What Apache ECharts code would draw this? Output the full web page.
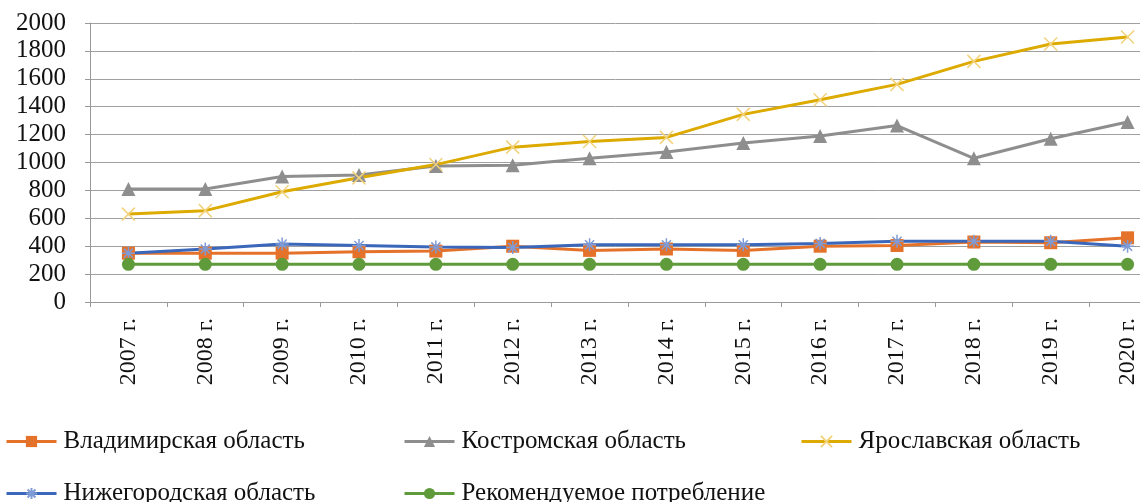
<!DOCTYPE html>
<html><head><meta charset="utf-8">
<script src="https://cdn.jsdelivr.net/npm/echarts@6/dist/echarts.min.js"></script>
<style>html,body{margin:0;padding:0;background:#fff}#c{width:1140px;height:502px}</style>
</head><body><div id="c"></div>
<script>
var categories = ['2007 г.','2008 г.','2009 г.','2010 г.','2011 г.','2012 г.','2013 г.','2014 г.','2015 г.','2016 г.','2017 г.','2018 г.','2019 г.','2020 г.'];
var vladimir = [350,350,350,360,365,400,370,380,370,400,405,430,425,460];
var kostroma = [810,810,900,910,975,980,1030,1075,1140,1190,1265,1030,1170,1290];
var yaroslavl = [630,655,790,890,985,1110,1150,1180,1345,1450,1560,1725,1850,1900];
var nizhny = [350,380,415,405,395,390,410,410,410,420,435,435,435,400];
var recommended = [270,270,270,270,270,270,270,270,270,270,270,270,270,270];
var seriesNames = ['Владимирская область','Костромская область','Ярославская область','Нижегородская область','Рекомендуемое потребление'];
var yTicks = [0,200,400,600,800,1000,1200,1400,1600,1800,2000];

var font = '"Liberation Serif","DejaVu Serif",serif';
var crossPath = 'path://M0,0 L10,10 M10,0 L0,10';
var starPath = 'path://M5,0 L5,10 M0,5 L10,5 M1.5,1.5 L8.5,8.5 M8.5,1.5 L1.5,8.5';

function legendAt(name, left, top) {
  return {
    data: [name], left: left, top: top, itemWidth: 50, itemHeight: 14, itemGap: 0,
    padding: 0,
    lineStyle: { width: 3 },
    textStyle: { fontFamily: font, fontSize: 25, color: '#111', padding: [0,0,0,2] }
  };
}

var chart = echarts.init(document.getElementById('c'));
chart.setOption({
  animation: false,
  backgroundColor: '#fff',
  grid: { left: 90, width: 1076, top: 23, height: 279, containLabel: false, outerBoundsMode: 'none' },
  legend: [
    legendAt(seriesNames[0], 5, 429),
    legendAt(seriesNames[1], 403, 429),
    legendAt(seriesNames[2], 800, 429),
    legendAt(seriesNames[3], 5, 481),
    legendAt(seriesNames[4], 403, 481)
  ],
  xAxis: {
    type: 'category', data: categories, boundaryGap: true,
    axisLine: { lineStyle: { color: '#9a9a9a', width: 1 } },
    axisTick: { show: true, length: 5, lineStyle: { color: '#9a9a9a' } },
    axisLabel: { rotate: 90, margin: 16, fontFamily: font, fontSize: 24, color: '#111', interval: 0 },
    splitLine: { show: false }
  },
  yAxis: {
    type: 'value', min: yTicks[0], max: yTicks[yTicks.length-1], interval: 200,
    axisLine: { show: true, lineStyle: { color: '#9a9a9a', width: 1 } },
    axisTick: { show: true, length: 5, lineStyle: { color: '#9a9a9a' } },
    axisLabel: { margin: 24, fontFamily: font, fontSize: 25, color: '#111',
      formatter: function (v) { return String(v); } },
    splitLine: { lineStyle: { color: '#a0a0a0', width: 1 } }
  },
  series: [
    { name: seriesNames[0], type: 'line', data: vladimir, symbol: 'rect', symbolSize: 13,
      lineStyle: { color: '#E4722A', width: 3 }, itemStyle: { color: '#E4722A' } },
    { name: seriesNames[1], type: 'line', data: kostroma, symbol: 'triangle', symbolSize: 14,
      lineStyle: { color: '#8E8E8E', width: 3 }, itemStyle: { color: '#8E8E8E' } },
    { name: seriesNames[2], type: 'line', data: yaroslavl, symbol: crossPath, symbolSize: 13,
      lineStyle: { color: '#DDAA00', width: 3 },
      itemStyle: { color: 'rgba(0,0,0,0)', borderColor: '#F2D27A', borderWidth: 1.5 } },
    { name: seriesNames[3], type: 'line', data: nizhny, symbol: starPath, symbolSize: 13,
      lineStyle: { color: '#3B67BA', width: 3 },
      itemStyle: { color: 'rgba(0,0,0,0)', borderColor: '#7E9BD6', borderWidth: 1.5 } },
    { name: seriesNames[4], type: 'line', data: recommended, symbol: 'circle', symbolSize: 13,
      lineStyle: { color: '#5F9B3B', width: 3 }, itemStyle: { color: '#5F9B3B' } }
  ]
});
</script></body></html>
